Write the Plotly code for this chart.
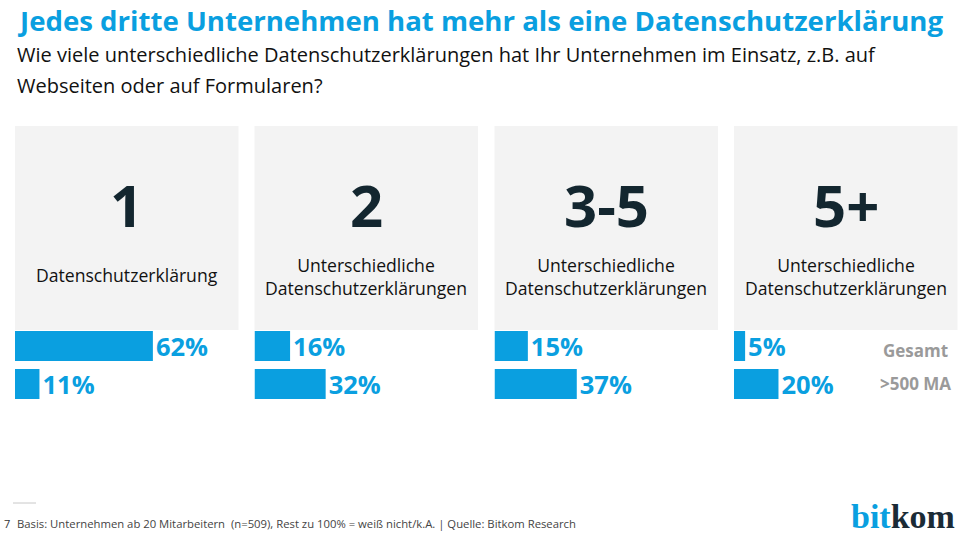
import plotly.graph_objects as go

# ---- data ----
categories = ["1", "2", "3-5", "5+"]
category_desc = [
    "Datenschutzerklärung",
    "Unterschiedliche<br>Datenschutzerklärungen",
    "Unterschiedliche<br>Datenschutzerklärungen",
    "Unterschiedliche<br>Datenschutzerklärungen",
]
series_names = ["Gesamt", ">500 MA"]
gesamt = [62, 16, 15, 5]
ma500 = [11, 32, 37, 20]

title = "Jedes dritte Unternehmen hat mehr als eine Datenschutzerklärung"
subtitle_1 = "Wie viele unterschiedliche Datenschutzerklärungen hat Ihr Unternehmen im Einsatz, z.B. auf"
subtitle_2 = "Webseiten oder auf Formularen?"
footnote = "Basis: Unternehmen ab 20 Mitarbeitern  (n=509), Rest zu 100% = weiß nicht/k.A. | Quelle: Bitkom Research"
page_no = "7"

# ---- style ----
W, H = 960, 534
BLUE = "#0a9fe0"
DARK = "#13262f"
GREY_PANEL = "#f3f3f3"
FONT = "Open Sans"

def px(x):
    return x / W

def py(y):
    return 1 - y / H

panel_x0 = [15, 254.5, 494.5, 734]
panel_w = 223.5
panel_top, panel_bot = 126, 330
bar_top, bar_bot = 327, 403  # y-axis domain in pixels

fig = go.Figure()
shapes = []
annotations = []

for i, cat in enumerate(categories):
    n = "" if i == 0 else str(i + 1)
    x0 = panel_x0[i]
    shapes.append(dict(type="rect", xref="paper", yref="paper",
                       x0=px(x0), x1=px(x0 + panel_w), y0=py(panel_bot), y1=py(panel_top),
                       fillcolor=GREY_PANEL, line=dict(width=0), layer="below"))
    cx = px(x0 + panel_w / 2)
    annotations.append(dict(text=cat, xref="paper", yref="paper", x=cx, y=py(204),
                            xanchor="center", yanchor="middle", showarrow=False,
                            font=dict(family=FONT, size=58, color=DARK, weight="bold")))
    annotations.append(dict(text=category_desc[i], xref="paper", yref="paper", x=cx,
                            y=py(275 if "<br>" not in category_desc[i] else 276),
                            xanchor="center", yanchor="middle", showarrow=False,
                            font=dict(family=FONT, size=17.6, color="#111111")))
    fig.add_trace(go.Bar(
        x=[gesamt[i], ma500[i]], y=series_names, orientation="h",
        marker=dict(color=BLUE, line=dict(width=0)), width=0.79,
        texttemplate="%{x}%", textposition="outside", constraintext="none",
        textfont=dict(family=FONT, size=25.5, color=BLUE, weight="bold"),
        cliponaxis=False, showlegend=False, hoverinfo="skip",
        xaxis="x" + n, yaxis="y" + n,
    ))
    fig.layout["xaxis" + n] = dict(domain=[px(x0), px(x0 + panel_w)], range=[0, 100.5],
                                   visible=False, fixedrange=True, anchor="y" + n)
    fig.layout["yaxis" + n] = dict(domain=[py(bar_bot), py(bar_top)], range=[1.5, -0.5],
                                   type="category", visible=False, fixedrange=True,
                                   anchor="x" + n)

# series legend labels
annotations.append(dict(text="Gesamt", xref="paper", yref="paper", x=px(915), y=py(350),
                        xanchor="center", yanchor="middle", showarrow=False,
                        font=dict(family=FONT, size=17, color="#9a9a9a", weight="bold")))
annotations.append(dict(text=">500 MA", xref="paper", yref="paper", x=px(915), y=py(383),
                        xanchor="center", yanchor="middle", showarrow=False,
                        font=dict(family=FONT, size=17, color="#9a9a9a", weight="bold")))

# title & subtitle
annotations.append(dict(text=title, xref="paper", yref="paper", x=px(15), y=py(20),
                        xanchor="left", yanchor="middle", showarrow=False,
                        font=dict(family=FONT, size=27.6, color=BLUE, weight="bold")))
annotations.append(dict(text=subtitle_1, xref="paper", yref="paper", x=px(15), y=py(54),
                        xanchor="left", yanchor="middle", showarrow=False,
                        font=dict(family=FONT, size=20, color="#111111")))
annotations.append(dict(text=subtitle_2, xref="paper", yref="paper", x=px(15), y=py(85),
                        xanchor="left", yanchor="middle", showarrow=False,
                        font=dict(family=FONT, size=20, color="#111111")))

# footer
shapes.append(dict(type="line", xref="paper", yref="paper", x0=px(13), x1=px(36),
                   y0=py(503), y1=py(503), line=dict(color="#c8c8c8", width=1)))
annotations.append(dict(text=page_no, xref="paper", yref="paper", x=px(2), y=py(523),
                        xanchor="left", yanchor="middle", showarrow=False,
                        font=dict(family=FONT, size=11, color="#333333")))
annotations.append(dict(text=footnote, xref="paper", yref="paper", x=px(15), y=py(523),
                        xanchor="left", yanchor="middle", showarrow=False,
                        font=dict(family=FONT, size=11.3, color="#444444")))
annotations.append(dict(text="<span style='color:%s'>bit</span><span style='color:%s'>kom</span>" % (BLUE, "#1b2b36"),
                        xref="paper", yref="paper", x=px(957), y=py(516),
                        xanchor="right", yanchor="middle", showarrow=False,
                        font=dict(family="Liberation Serif", size=34, weight="bold")))

fig.update_layout(
    width=W, height=H, margin=dict(l=0, r=0, t=0, b=0),
    paper_bgcolor="white", plot_bgcolor="rgba(0,0,0,0)",
    shapes=shapes, annotations=annotations, bargap=0.21,
)

fig.write_html("out.html", config={"displayModeBar": False},
               post_script="document.body.style.margin='0';document.body.style.overflow='hidden';")
